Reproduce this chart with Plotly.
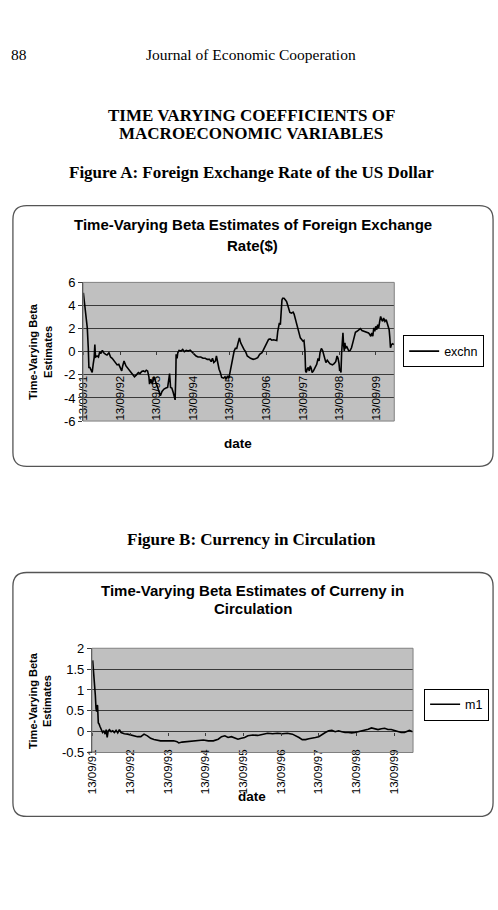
import pandas as pd
import plotly.graph_objects as go

W, H = 498, 910
START = pd.Timestamp("1991-09-13")

# ---- data (weeks since 13/09/91, beta estimates) ----
exch_weeks = [0, 1.9, 3.7, 5.6, 7.0, 7.9, 9.4, 11.2, 12.6, 14.0,
              15.4, 16.4, 17.3, 19.6, 21.5, 23.4, 24.8, 27.1, 29.0, 31.8,
              33.7, 36.5, 38.8, 41.1, 43.5, 45.8, 48.2, 50.5, 52.8, 54.7,
              56.1, 58.0, 60.8, 64.1, 66.9, 70.1, 72.9, 75.7, 78.5, 80.9,
              83.2, 85.6, 87.9, 89.8, 91.6, 93.5, 94.4, 96.3, 98.2, 100.5,
              102.9, 105.2, 107.5, 109.9, 112.2, 115.0, 117.8, 120.2, 121.6, 123.0,
              124.4, 126.2, 128.1, 130.0, 130.9, 131.9, 132.3, 133.7, 134.7, 136.5,
              139.3, 141.7, 144.0, 146.8, 149.6, 152.4, 155.2, 158.0, 160.8, 163.6,
              167.4, 170.7, 173.9, 176.7, 180.0, 182.3, 184.2, 186.1, 188.4, 189.8,
              191.7, 193.6, 195.4, 197.3, 200.1, 202.0, 203.9, 205.7, 207.6, 209.5,
              211.3, 213.2, 215.1, 216.9, 218.8, 220.7, 222.6, 224.4, 226.8, 229.1,
              231.4, 233.8, 238.5, 242.2, 245.5, 248.7, 251.5, 254.8, 257.2, 259.5,
              261.8, 264.2, 266.5, 268.8, 271.2, 273.5, 275.9, 277.3, 278.7, 279.6,
              281.0, 281.9, 283.3, 284.3, 286.2, 288.0, 289.9, 291.3, 293.2, 294.6,
              296.9, 299.2, 300.6, 302.0, 303.9, 305.8, 307.7, 309.5, 311.4, 313.3,
              314.7, 316.1, 317.0, 317.9, 319.3, 320.8, 322.2, 323.6, 325.0, 326.4,
              328.2, 329.6, 331.0, 332.9, 334.8, 336.2, 337.6, 339.5, 341.3, 342.7,
              344.1, 346.0, 347.9, 349.7, 351.6, 353.5, 355.3, 357.7, 360.0, 361.9,
              363.3, 364.7, 365.6, 366.6, 367.5, 368.4, 369.4, 370.3, 371.2, 372.2,
              373.1, 374.0, 375.4, 376.9, 378.7, 380.6, 382.5, 384.3, 386.2, 388.1,
              390.4, 392.8, 395.1, 397.4, 399.8, 402.1, 404.4, 406.8, 408.6, 410.0,
              411.5, 412.9, 414.3, 415.7, 417.1, 418.5, 419.9, 421.3, 422.7, 424.1,
              425.5, 426.9, 428.3, 430.2, 432.0, 433.4, 434.8, 436.2, 437.2, 438.1,
              439.5, 441.4, 443.0]
exch_values = [5.1, 4.06, 2.63, 2.06, 0.34, -1.37, -1.37, -1.66, -1.8, -1.09,
               -0.51, 0.63, -0.46, -0.37, -0.46, 0.0, -0.17, 0.11, -0.09, -0.23,
               -0.29, -0.09, -0.46, -0.57, -0.74, -0.94, -1.14, -1.09, -1.37, -1.66,
               -1.23, -0.8, -1.23, -1.51, -1.66, -1.94, -2.17, -2.0, -1.8, -1.89,
               -1.71, -1.66, -1.74, -1.6, -1.66, -2.17, -2.8, -2.37, -2.8, -2.17,
               -2.51, -2.94, -3.37, -3.8, -3.43, -3.23, -3.14, -3.09, -2.51, -1.89,
               -3.09, -3.14, -3.51, -3.89, -4.17, -1.94, -0.23, -0.57, -0.09, 0.11,
               0.06, 0.2, 0.0, 0.11, 0.06, 0.14, -0.03, -0.23, -0.37, -0.46,
               -0.46, -0.57, -0.57, -0.66, -0.66, -0.86, -0.57, -0.94, -0.8, -0.37,
               -1.09, -1.51, -1.8, -2.23, -2.29, -2.17, -2.37, -2.09, -2.29, -1.66,
               -1.09, -0.66, 0.06, 0.29, 0.29, 0.77, 1.2, 0.77, 0.4, 0.2,
               0.0, -0.37, -0.57, -0.66, -0.6, -0.51, -0.23, -0.09, 0.2, 0.49,
               0.86, 1.06, 1.11, 1.0, 1.03, 0.97, 0.97, 1.77, 2.49, 2.49,
               2.34, 3.77, 4.49, 4.63, 4.63, 4.49, 4.34, 4.06, 3.63, 3.4,
               3.34, 3.43, 3.26, 2.91, 2.34, 2.0, 1.63, 1.2, 1.06, 0.91,
               0.97, 0.06, -1.66, -1.8, -1.51, -1.37, -1.66, -1.23, -1.43, -1.8,
               -1.66, -1.46, -1.37, -1.09, -0.57, -0.8, -0.09, 0.29, 0.11, -0.17,
               -0.66, -0.94, -0.74, -0.94, -1.03, -1.09, -1.14, -1.03, -0.86, -0.37,
               -0.57, -1.03, -1.66, -1.51, -1.8, -0.09, 0.49, 1.63, 0.63, 0.06,
               0.77, 0.29, 0.49, 0.2, 0.06, 0.11, 0.34, 0.77, 1.34, 1.69,
               1.77, 1.91, 2.0, 1.83, 1.77, 1.71, 1.71, 1.63, 1.49, 1.34,
               1.63, 1.34, 2.06, 1.77, 2.2, 1.91, 2.34, 2.06, 2.63, 3.06,
               2.77, 2.63, 2.91, 2.63, 2.77, 2.49, 2.2, 1.91, 1.2, 0.34,
               0.63, 0.69, 0.6]

m1_weeks = [0, 1.8, 2.7, 3.7, 4.6, 5.5, 6.4, 6.8, 7.8, 8.7,
            10.0, 11.9, 13.7, 15.5, 17.3, 18.7, 20.1, 21.5, 23.3, 25.6,
            27.8, 30.1, 32.4, 34.7, 37.0, 39.3, 43.8, 48.4, 53.0, 57.5,
            62.1, 66.7, 71.2, 75.8, 80.3, 84.9, 89.5, 94.0, 98.6, 103.2,
            107.7, 112.3, 116.9, 119.2, 123.7, 128.3, 132.8, 139.7, 146.5, 153.4,
            160.2, 167.1, 173.9, 178.5, 183.1, 187.6, 192.2, 196.8, 201.3, 205.9,
            210.5, 215.0, 221.9, 228.7, 235.6, 242.4, 249.3, 256.1, 263.0, 269.8,
            276.7, 281.2, 285.8, 290.3, 294.9, 299.5, 304.0, 308.6, 313.2, 317.7,
            322.3, 326.9, 331.4, 336.0, 340.6, 345.1, 349.7, 354.3, 358.8, 363.4,
            368.0, 372.5, 377.1, 381.7, 386.2, 390.8, 395.3, 399.9, 404.5, 409.0,
            413.6, 418.2, 422.7, 427.3, 431.9, 436.4, 438.7, 443.3]
m1_values = [1.71, 1.34, 1.18, 0.87, 0.56, 0.48, 0.64, 0.62, 0.21, 0.19,
             0.13, 0.03, -0.02, 0.02, -0.06, 0.05, -0.14, 0.02, 0.05, 0.0,
             0.02, -0.02, 0.03, -0.03, 0.05, -0.02, -0.05, -0.06, -0.08, -0.1,
             -0.12, -0.12, -0.06, -0.1, -0.16, -0.19, -0.21, -0.22, -0.22, -0.22,
             -0.23, -0.22, -0.24, -0.27, -0.25, -0.24, -0.23, -0.22, -0.2, -0.2,
             -0.22, -0.22, -0.18, -0.12, -0.1, -0.14, -0.12, -0.16, -0.18, -0.16,
             -0.14, -0.1, -0.08, -0.09, -0.06, -0.04, -0.05, -0.04, -0.05, -0.04,
             -0.06, -0.09, -0.14, -0.19, -0.19, -0.17, -0.16, -0.14, -0.12, -0.06,
             -0.02, 0.02, 0.03, 0.0, 0.02, 0.0, -0.02, -0.02, -0.03, -0.02,
             0.0, 0.02, 0.03, 0.06, 0.09, 0.06, 0.05, 0.07, 0.08, 0.05,
             0.05, 0.03, 0.0, -0.02, -0.02, 0.02, 0.03, 0.0]

tick_dates = ["1991-09-13", "1992-09-13", "1993-09-13", "1994-09-13", "1995-09-13",
              "1996-09-13", "1997-09-13", "1998-09-13", "1999-09-13"]
tick_labels = ["13/09/91", "13/09/92", "13/09/93", "13/09/94", "13/09/95",
               "13/09/96", "13/09/97", "13/09/98", "13/09/99"]
ya_vals = [-6, -4, -2, 0, 2, 4, 6]
ya_text = ["-6", "-4", "-2", "0", "2", "4", "6"]
yb_vals = [-0.5, 0, 0.5, 1, 1.5, 2]
yb_text = ["-0.5", "0", "0.5", "1", "1.5", "2"]


def to_dates(weeks):
    return [START + pd.Timedelta(days=7 * w) for w in weeks]


def X(v):
    return v / W


def Y(v):
    return 1 - v / H


SANS = "Liberation Sans, Arial, sans-serif"
SERIF = "Liberation Serif, Times New Roman, serif"
GRID = "#3a3a3a"

fig = go.Figure()
fig.add_trace(go.Scatter(x=to_dates(exch_weeks), y=exch_values, mode="lines", name="exchn",
                         line=dict(color="black", width=1.6), xaxis="x", yaxis="y",
                         legend="legend", showlegend=True))
fig.add_trace(go.Scatter(x=to_dates(m1_weeks), y=m1_values, mode="lines", name="m1",
                         line=dict(color="black", width=1.6), xaxis="x2", yaxis="y2",
                         legend="legend2", showlegend=True))

common_x = dict(tickmode="array", tickvals=tick_dates, ticktext=tick_labels, tickangle=-90,
                ticks="outside", ticklen=3, tickcolor=GRID, showgrid=False, showline=False,
                zeroline=False, tickfont=dict(family=SANS, size=11.5, color="black"),
                anchor="free", fixedrange=True)
common_y = dict(tickmode="array", ticks="outside", ticklen=4, tickcolor=GRID,
                showline=True, linecolor=GRID, linewidth=1, showgrid=True, gridcolor=GRID,
                gridwidth=1, zeroline=False, tickfont=dict(family=SANS, size=13, color="black"),
                fixedrange=True)
legend_common = dict(xanchor="right", yanchor="top", bgcolor="white", bordercolor="black",
                     borderwidth=1, font=dict(family=SANS, size=12.5, color="black"))

fig.update_layout(
    width=W, height=H, autosize=False, showlegend=True,
    margin=dict(l=0, r=0, t=0, b=0, pad=0),
    paper_bgcolor="white", plot_bgcolor="#c0c0c0",
    xaxis=dict(common_x, domain=[X(78), X(393)], position=Y(350),
               range=[START - pd.Timedelta(days=3), START + pd.Timedelta(days=7 * 443.5)],
               ticklabelstandoff=16),
    yaxis=dict(common_y, domain=[Y(421), Y(280)], anchor="x", range=[-6, 6],
               tickvals=ya_vals, ticktext=ya_text),
    xaxis2=dict(common_x, domain=[X(87), X(412)], position=Y(737),
                range=[START - pd.Timedelta(days=7), START + pd.Timedelta(days=7 * 443.8)],
                ticklabelstandoff=9),
    yaxis2=dict(common_y, domain=[Y(758), Y(652)], anchor="x2", range=[-0.5, 2],
                tickvals=yb_vals, ticktext=yb_text),
    legend=dict(legend_common, x=X(484), y=Y(334)),
    legend2=dict(legend_common, x=X(489), y=Y(693)),
)


def rrect(x0, y0, x1, y1, r):
    return (f"M {X(x0 + r)},{Y(y0)} L {X(x1 - r)},{Y(y0)} Q {X(x1)},{Y(y0)} {X(x1)},{Y(y0 + r)} "
            f"L {X(x1)},{Y(y1 - r)} Q {X(x1)},{Y(y1)} {X(x1 - r)},{Y(y1)} "
            f"L {X(x0 + r)},{Y(y1)} Q {X(x0)},{Y(y1)} {X(x0)},{Y(y1 - r)} "
            f"L {X(x0)},{Y(y0 + r)} Q {X(x0)},{Y(y0)} {X(x0 + r)},{Y(y0)} Z")


shapes = [
    dict(type="path", xref="paper", yref="paper", path=rrect(7, 202, 493, 467, 14),
         line=dict(color="#555555", width=1.3), layer="below"),
    dict(type="path", xref="paper", yref="paper", path=rrect(7, 575, 493, 823, 14),
         line=dict(color="#555555", width=1.3), layer="below"),
    dict(type="rect", xref="x domain", yref="y domain", x0=0, x1=1, y0=0, y1=1,
         line=dict(color="#808080", width=1)),
    dict(type="rect", xref="x2 domain", yref="y2 domain", x0=0, x1=1, y0=0, y1=1,
         line=dict(color="#808080", width=1)),
]
fig.update_layout(shapes=shapes)


def ann(text, x, y, size, family=SANS, bold=False, angle=0, xanchor="center"):
    t = f"<b>{text}</b>" if bold else text
    return dict(text=t, x=X(x), y=Y(y), xref="paper", yref="paper", showarrow=False,
                xanchor=xanchor, yanchor="middle", textangle=angle,
                font=dict(family=family, size=size, color="black"))


annotations = [
    ann("88", 3, 48, 15.5, SERIF, xanchor="left"),
    ann("Journal of Economic Cooperation", 248, 48, 15.5, SERIF),
    ann("TIME VARYING COEFFICIENTS OF", 248, 110, 17, SERIF, bold=True),
    ann("MACROECONOMIC VARIABLES", 248, 129, 17, SERIF, bold=True),
    ann("Figure A: Foreign Exchange Rate of the US Dollar", 248, 168, 17, SERIF, bold=True),
    ann("Figure B: Currency in Circulation", 248, 541, 17, SERIF, bold=True),
    # chart A
    ann("Time-Varying Beta Estimates of Foreign Exchange", 250, 221, 15, bold=True),
    ann("Rate($)", 250, 242, 15, bold=True),
    ann("Time-Varying Beta<br>Estimates", 35, 350, 11, bold=True, angle=-90),
    ann("date", 235, 444, 13.5, bold=True),
    # chart B
    ann("Time-Varying Beta Estimates of Curreny in", 250, 593, 15, bold=True),
    ann("Circulation", 250, 612, 15, bold=True),
    ann("Time-Varying Beta<br>Estimates", 35, 705, 11, bold=True, angle=-90),
    ann("date", 249, 803, 13.5, bold=True),
]
fig.update_layout(annotations=annotations)

fig.write_html("out.html")
